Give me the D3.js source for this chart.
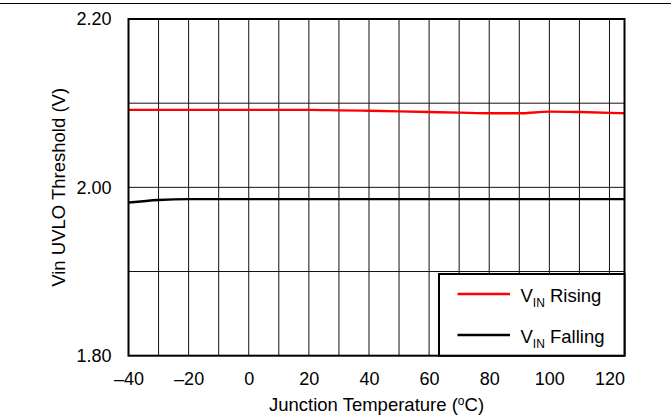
<!DOCTYPE html>
<html>
<head>
<meta charset="utf-8">
<script src="https://cdn.jsdelivr.net/npm/d3@7"></script>
<style>
    body { margin: 0; background: #fff; }
    svg { display: block; font-family: "Liberation Sans", Arial, sans-serif; }
</style>
</head>
<body>
<svg id="vis" width="671" height="415"></svg>
<script>
/**
 * margins of the plot box inside the 671x415 svg
 */
const MARGINS = {top: 19, right: 46.5, bottom: 59.3, left: 128.5};

// junction temperature (C)
const TEMPS = [-40, -30, -20, -10, 0, 10, 20, 30, 40, 50, 60, 70, 80, 90, 100, 110, 125];
// Vin UVLO threshold, rising (V)
const RISING = [2.092, 2.092, 2.092, 2.092, 2.092, 2.092, 2.092, 2.0915, 2.091, 2.0903, 2.0895, 2.0888, 2.088, 2.088, 2.090, 2.0895, 2.088];
// Vin UVLO threshold, falling (V)
const FALLING = [1.982, 1.985, 1.986, 1.986, 1.986, 1.986, 1.986, 1.986, 1.986, 1.986, 1.986, 1.986, 1.986, 1.986, 1.986, 1.986, 1.986];

const X_TICKS = [-40, -20, 0, 20, 40, 60, 80, 100, 120];
const X_GRID = d3.range(-30, 125, 10);
const Y_TICKS = [1.80, 2.00, 2.20];
const Y_GRID = [1.90, 2.00, 2.10];

const SERIES = [
    {name: "Rising", values: RISING, color: "#ff0000"},
    {name: "Falling", values: FALLING, color: "#000000"}
];

var width = 671, height = 415;
var svg = d3.select("#vis");

var x = d3.scaleLinear().domain([-40, 125]).range([MARGINS.left, width - MARGINS.right]);
var y = d3.scaleLinear().domain([1.80, 2.20]).range([height - MARGINS.bottom, MARGINS.top]);

// rule across the top of the page
svg.append("line")
    .attr("x1", 0).attr("x2", width)
    .attr("y1", 3.5).attr("y2", 3.5)
    .style("stroke", "#000").style("stroke-width", 1);

// gridlines
svg.append("g")
    .selectAll("line")
    .data(X_GRID)
    .enter().append("line")
    .attr("x1", d => x(d)).attr("x2", d => x(d))
    .attr("y1", y.range()[1]).attr("y2", y.range()[0])
    .style("stroke", "#111").style("stroke-width", 1);

svg.append("g")
    .selectAll("line")
    .data(Y_GRID)
    .enter().append("line")
    .attr("x1", x.range()[0]).attr("x2", x.range()[1])
    .attr("y1", d => y(d)).attr("y2", d => y(d))
    .style("stroke", "#111").style("stroke-width", 1);

// tick labels via d3 axes, no tick marks or domain line
var xAxis = d3.axisBottom(x).tickValues(X_TICKS).tickSize(0).tickPadding(17)
    .tickFormat(d => d < 0 ? "\u2013" + Math.abs(d) : d);
var yAxis = d3.axisLeft(y).tickValues(Y_TICKS).tickSize(0).tickPadding(17)
    .tickFormat(d3.format(".2f"));

var gx = svg.append("g")
    .attr("transform", `translate(0, ${height - MARGINS.bottom})`)
    .call(xAxis);
var gy = svg.append("g")
    .attr("transform", `translate(${MARGINS.left}, 0)`)
    .call(yAxis);
[gx, gy].forEach(function(g){
    g.select(".domain").remove();
    g.selectAll("text")
        .style("font-family", "'Liberation Sans', Arial, sans-serif")
        .style("font-size", "18px")
        .style("fill", "#000");
});

// data lines
var line = d3.line()
    .x((d, i) => x(TEMPS[i]))
    .y(d => y(d))
    .curve(d3.curveMonotoneX);

svg.append("g")
    .selectAll("path")
    .data(SERIES)
    .enter().append("path")
    .attr("d", d => line(d.values))
    .style("fill", "none")
    .style("stroke", d => d.color)
    .style("stroke-width", 2.4);

// plot frame
svg.append("rect")
    .attr("x", x.range()[0]).attr("y", y.range()[1])
    .attr("width", x.range()[1] - x.range()[0])
    .attr("height", y.range()[0] - y.range()[1])
    .style("fill", "none").style("stroke", "#000").style("stroke-width", 2);

// legend
var legend = svg.append("g").attr("transform", "translate(439, 274)");
legend.append("rect")
    .attr("x", 0).attr("y", 0)
    .attr("width", x.range()[1] - 439)
    .attr("height", y.range()[0] - 274)
    .style("fill", "#fff").style("stroke", "#000").style("stroke-width", 2);

var items = legend.selectAll(".item")
    .data(SERIES)
    .enter().append("g")
    .attr("class", "item")
    .attr("transform", (d, i) => `translate(0, ${20 + i * 41})`);
items.append("line")
    .attr("x1", 18.5).attr("x2", 71)
    .attr("y1", 0).attr("y2", 0)
    .style("stroke", d => d.color).style("stroke-width", 2.4);
var lt = items.append("text")
    .attr("x", 81.5).attr("y", 7.5)
    .style("font-size", "18.5px");
lt.append("tspan").text("V");
lt.append("tspan").attr("dy", 5).style("font-size", "12px").text("IN");
lt.append("tspan").attr("dy", -5).text(d => " " + d.name);

// axis titles
var xt = svg.append("text")
    .attr("x", (x.range()[0] + x.range()[1]) / 2)
    .attr("y", 411)
    .style("text-anchor", "middle")
    .style("font-size", "18.5px");
xt.append("tspan").text("Junction Temperature (");
xt.append("tspan").attr("dy", -6).style("font-size", "12px").text("o");
xt.append("tspan").attr("dy", 6).text("C)");

svg.append("text")
    .attr("transform", `translate(64.5, ${(y.range()[0] + y.range()[1]) / 2}) rotate(-90)`)
    .style("text-anchor", "middle")
    .style("font-size", "18.5px")
    .text("Vin UVLO Threshold (V)");
</script>
</body>
</html>
